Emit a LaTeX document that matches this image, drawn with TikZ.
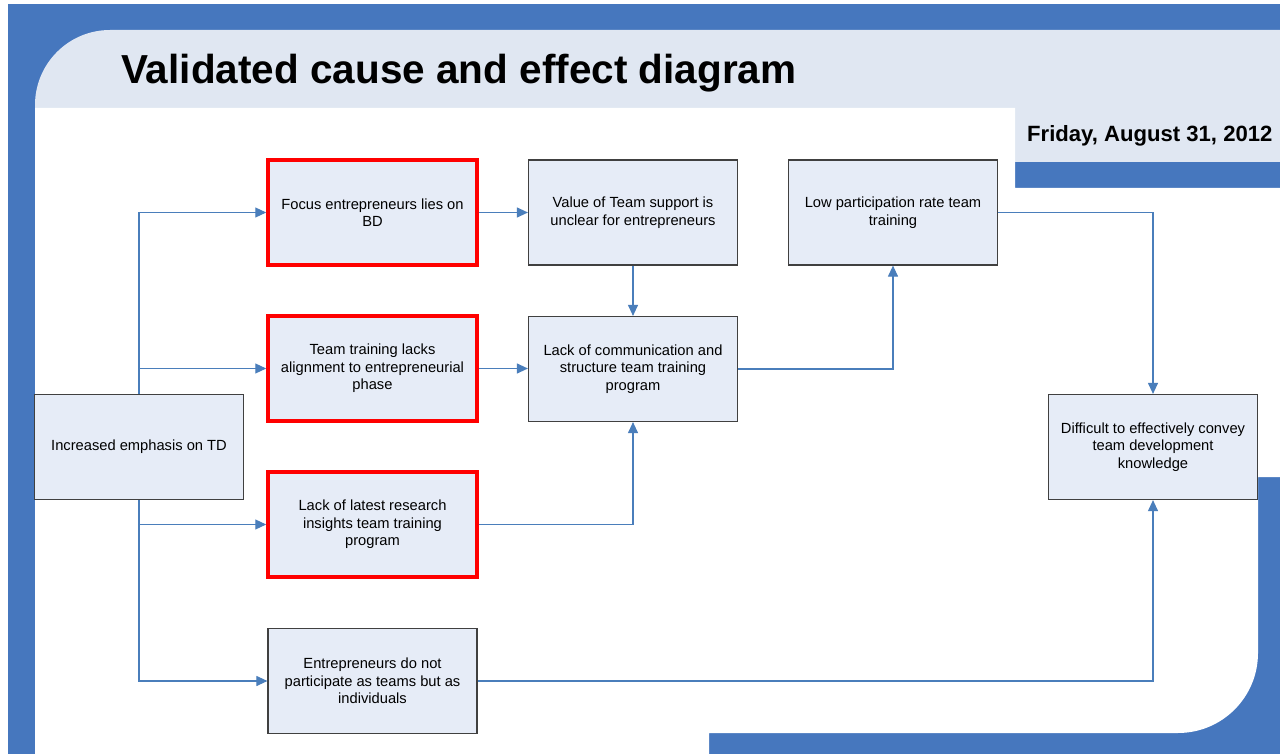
\documentclass[tikz,border=0pt]{standalone}
\usepackage{fontspec}
\setmainfont{Liberation Sans}
\usetikzlibrary{arrows.meta}
\definecolor{bgblue}{HTML}{4677BE}
\definecolor{panel}{HTML}{E0E7F2}
\definecolor{boxfill}{HTML}{E6ECF7}
\definecolor{boxline}{HTML}{404040}
\definecolor{conncol}{HTML}{4A7EBB}
\begin{document}
\begin{tikzpicture}[x=1pt,y=-1pt,
  box/.style={rectangle, fill=boxfill, draw=boxline, line width=1.2pt,
    minimum width=209pt, minimum height=105pt, inner sep=0pt, align=center,
    font=\fontsize{14.7}{17.6}\selectfont},
  redbox/.style={box, draw=red, line width=3.5pt, minimum width=209pt, minimum height=105pt},
  conn/.style={draw=conncol, line width=1.1pt, -{Triangle[length=11pt,width=10pt]}}
]
\useasboundingbox (0,0) rectangle (1280,754);
\fill[white] (0,0) rectangle (1280,754);
\fill[bgblue] (8,4) rectangle (1280,754);
\fill[panel] (35,108) -- (35,105) .. controls (35,63.6) and (68.6,30) .. (110,30)
  -- (1280,30) -- (1280,162) -- (1015,162) -- (1015,108) -- cycle;
\fill[white] (35,108) -- (1015,108) -- (1015,188) -- (1280,188) -- (1280,477)
  -- (1258,477) -- (1258,653) .. controls (1258,697.2) and (1222.2,733) .. (1178,733)
  -- (709,733) -- (709,754) -- (35,754) -- cycle;

\node[anchor=base west, inner sep=0pt, font=\fontsize{40.5}{48}\selectfont\bfseries] (title) at (121,84) {Validated cause and effect diagram};
\node[anchor=base west, inner sep=0pt, font=\fontsize{22.1}{26}\selectfont\bfseries] (date) at (1027,142) {Friday, August 31, 2012};

\node[box] (A) at (139,447) {Increased emphasis on TD};
\node[redbox] (B1) at (372.5,212.5) {Focus entrepreneurs lies on\\BD};
\node[redbox] (B2) at (372.5,368.5) {Team training lacks\\alignment to entrepreneurial\\phase};
\node[redbox] (B3) at (372.5,524.5) {Lack of latest research\\insights team training\\program};
\node[box] (B4) at (372.5,681) {Entrepreneurs do not\\participate as teams but as\\individuals};
\node[box] (C1) at (633,212.5) {Value of Team support is\\unclear for entrepreneurs};
\node[box] (C2) at (633,369) {Lack of communication and\\structure team training\\program};
\node[box] (D) at (893,212.5) {Low participation rate team\\training};
\node[box] (E) at (1153,447) {Difficult to effectively convey\\team development\\knowledge};

\draw[conn] (A.north) |- (B1.west);
\draw[conn] (A.north) |- (B2.west);
\draw[conn] (A.south) |- (B3.west);
\draw[conn] (A.south) |- (B4.west);
\draw[conn] (B1.east) -- (C1.west);
\draw[conn] (B2.east) -- (C2.west |- B2.east);
\draw[conn] (B3.east) -| (C2.south);
\draw[conn] (C1.south) -- (C2.north);
\draw[conn] (C2.east) -| (D.south);
\draw[conn] (D.east) -| (E.north);
\draw[conn] (B4.east) -| (E.south);
\end{tikzpicture}
\end{document}
